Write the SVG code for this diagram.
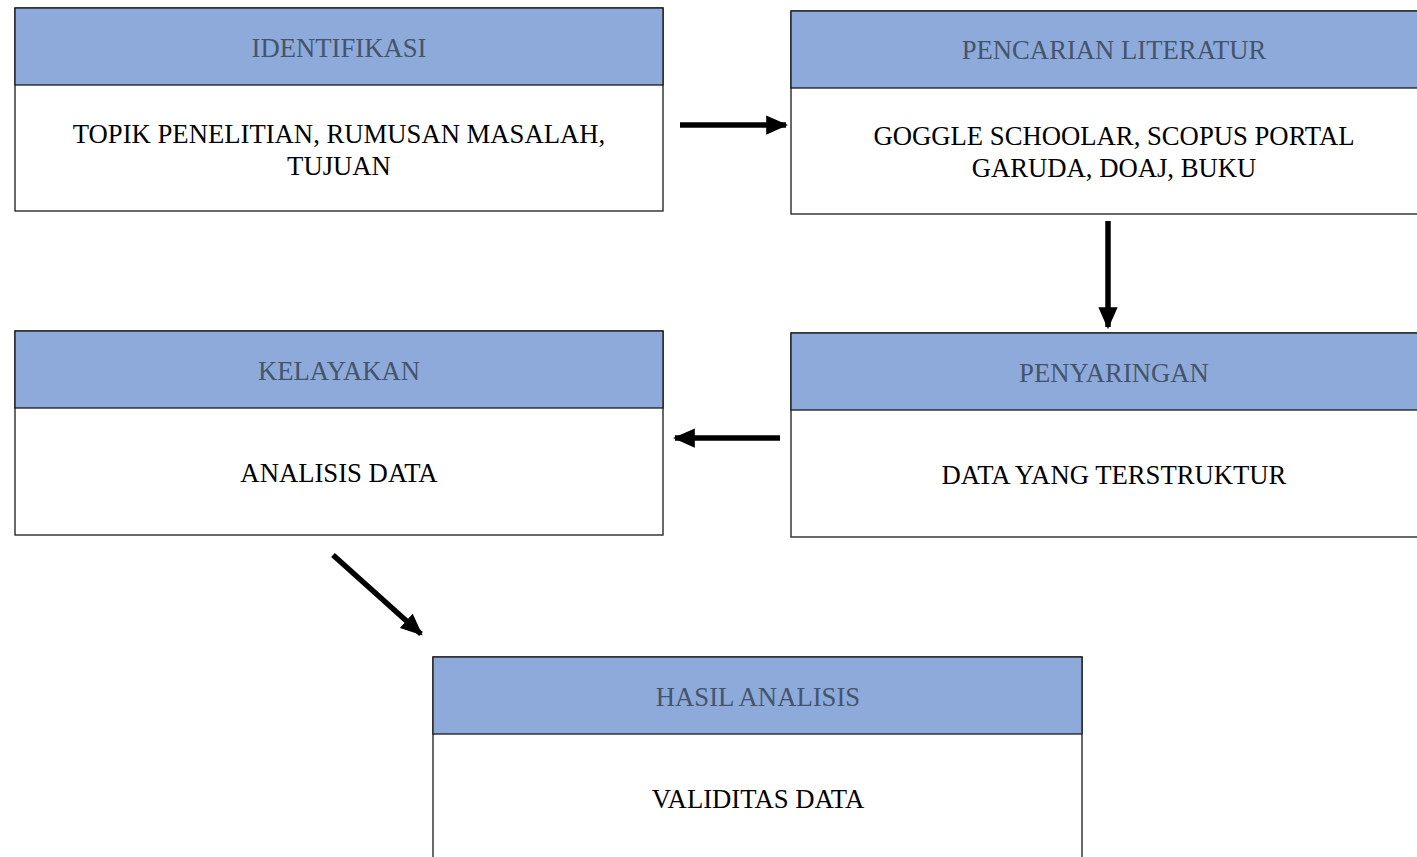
<svg xmlns="http://www.w3.org/2000/svg" width="1417" height="857" viewBox="0 0 1417 857">
  <defs>
    <style>
      .box { fill: #ffffff; stroke: #1a1a1a; stroke-width: 1.3; }
      .head { fill: #8eaadb; stroke: #1a1a1a; stroke-width: 1.3; }
      .ht { font-family: "Liberation Serif", "Times New Roman", serif; font-size: 26.7px; fill: #44546a; text-anchor: middle; }
      .bt { font-family: "Liberation Serif", "Times New Roman", serif; font-size: 26.7px; fill: #000000; text-anchor: middle; }
      .conn { stroke: #000000; stroke-width: 5.5; fill: none; marker-end: url(#ah); }
    </style>
    <marker id="ah" viewBox="0 0 10 10" refX="9" refY="5" markerWidth="4" markerHeight="3.5" markerUnits="strokeWidth" orient="auto" preserveAspectRatio="none">
      <path d="M0,0 L10,5 L0,10 Z" fill="#000000"/>
    </marker>
  </defs>

  <g id="identifikasi">
    <rect class="box" x="15" y="8" width="648" height="203"/>
    <rect class="head" x="15" y="8" width="648" height="77"/>
    <text class="ht" x="339" y="57">IDENTIFIKASI</text>
    <text class="bt" x="339" y="143">TOPIK PENELITIAN, RUMUSAN MASALAH,</text>
    <text class="bt" x="339" y="175">TUJUAN</text>
  </g>

  <g id="pencarian-literatur">
    <rect class="box" x="791" y="11" width="648" height="203"/>
    <rect class="head" x="791" y="11" width="648" height="77"/>
    <text class="ht" x="1114" y="59">PENCARIAN LITERATUR</text>
    <text class="bt" x="1114" y="145">GOGGLE SCHOOLAR, SCOPUS PORTAL</text>
    <text class="bt" x="1114" y="177">GARUDA, DOAJ, BUKU</text>
  </g>

  <g id="kelayakan">
    <rect class="box" x="15" y="331" width="648" height="204"/>
    <rect class="head" x="15" y="331" width="648" height="77"/>
    <text class="ht" x="339" y="380">KELAYAKAN</text>
    <text class="bt" x="339" y="482">ANALISIS DATA</text>
  </g>

  <g id="penyaringan">
    <rect class="box" x="791" y="333" width="648" height="204"/>
    <rect class="head" x="791" y="333" width="648" height="77"/>
    <text class="ht" x="1114" y="382">PENYARINGAN</text>
    <text class="bt" x="1114" y="484">DATA YANG TERSTRUKTUR</text>
  </g>

  <g id="hasil-analisis">
    <rect class="box" x="433" y="657" width="649" height="220"/>
    <rect class="head" x="433" y="657" width="649" height="77"/>
    <text class="ht" x="758" y="706">HASIL ANALISIS</text>
    <text class="bt" x="758" y="808">VALIDITAS DATA</text>
  </g>

  <g id="connectors">
    <line class="conn" x1="680" y1="125" x2="786" y2="125"/>
    <line class="conn" x1="1108" y1="221" x2="1108" y2="327"/>
    <line class="conn" x1="780" y1="438" x2="675" y2="438"/>
    <line class="conn" x1="333" y1="555" x2="421" y2="634"/>
  </g>
</svg>
